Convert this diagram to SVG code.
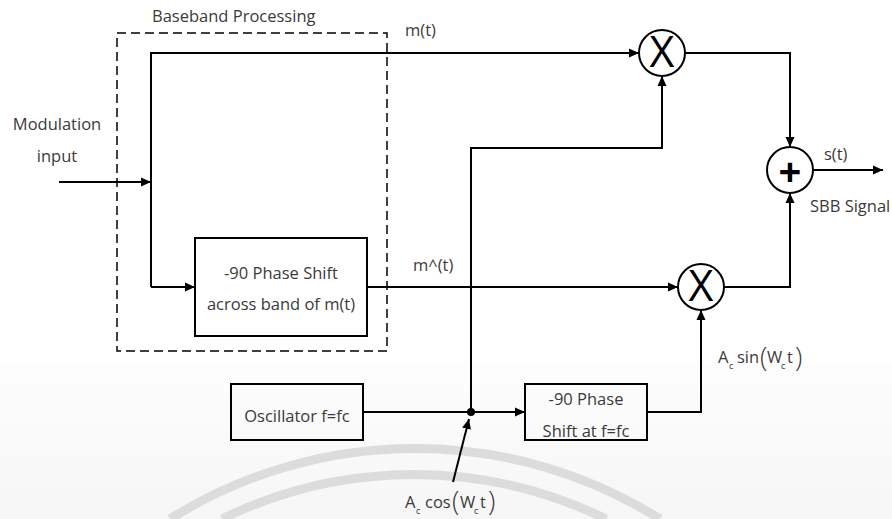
<svg xmlns="http://www.w3.org/2000/svg" width="892" height="519" viewBox="0 0 892 519">
  <defs>
    <marker id="arr" viewBox="0 0 10 10" refX="10" refY="5" markerWidth="10" markerHeight="10" markerUnits="userSpaceOnUse" orient="auto">
      <path d="M0,0.5 L10,5 L0,9.5 Z" fill="#000"/>
    </marker>
    <linearGradient id="bg" x1="0" y1="0" x2="0" y2="1">
      <stop offset="0" stop-color="#fdfdfd"/>
      <stop offset="1" stop-color="#f6f6f6"/>
    </linearGradient>
    <style>
      .t { font-family: "Open Sans", "Noto Sans", sans-serif; font-size: 16.5px; fill: #3a3a3a; }
      .sub { font-family: "Open Sans", "Noto Sans", sans-serif; font-size: 9px; fill: #3a3a3a; }
      .par { font-family: "Open Sans", "Noto Sans", sans-serif; font-size: 27px; fill: #3a3a3a; font-weight: 300; }
      .box { fill: none; stroke: #000; stroke-width: 2; }
      .op { fill: #fff; stroke: #000; stroke-width: 2; }
      .sym { font-family: "Open Sans", "Noto Sans", sans-serif; fill: #000; text-anchor: middle; }
      .w { fill: none; stroke: #000; stroke-width: 2; }
      .wa { fill: none; stroke: #000; stroke-width: 2; marker-end: url(#arr); }
      .mark { fill: none; stroke: #dcdcdc; stroke-width: 9; }
    </style>
  </defs>

  <rect x="0" y="0" width="892" height="519" fill="#fff"/>
  <rect x="0" y="362" width="892" height="157" fill="url(#bg)"/>

  <g id="watermark">
    <path class="mark" d="M 170 519 A 461 461 0 0 1 660 519"/>
    <path class="mark" d="M 222 519 A 436 436 0 0 1 606 519"/>
  </g>

  <g id="baseband">
    <rect x="117" y="33" width="270" height="318" fill="none" stroke="#000" stroke-width="1.5" stroke-dasharray="9,5"/>
    <text class="t" x="152" y="22">Baseband Processing</text>
  </g>

  <g id="input-label">
    <text class="t" x="57" y="130" text-anchor="middle">Modulation</text>
    <text class="t" x="57" y="162" text-anchor="middle">input</text>
  </g>

  <g id="hilbert">
    <rect class="box" x="195" y="238" width="172" height="98"/>
    <text class="t" x="281" y="279" text-anchor="middle">-90 Phase Shift</text>
    <text class="t" x="281" y="310" text-anchor="middle">across band of m(t)</text>
  </g>

  <g id="oscillator">
    <rect class="box" x="231" y="384" width="132" height="56"/>
    <text class="t" x="297" y="422" text-anchor="middle">Oscillator f=fc</text>
  </g>

  <g id="carrier-shift">
    <rect class="box" x="525" y="384" width="122" height="56"/>
    <text class="t" x="586" y="405" text-anchor="middle">-90 Phase</text>
    <text class="t" x="586" y="437" text-anchor="middle">Shift at f=fc</text>
  </g>

  <g id="connectors">
    <line class="wa" x1="59" y1="182" x2="151" y2="182"/>
    <polyline class="w" points="151,287 151,53 639,53"/>
    <line class="wa" x1="151" y1="53" x2="639" y2="53"/>
    <line class="wa" x1="151" y1="287" x2="195" y2="287"/>
    <line class="wa" x1="367" y1="287" x2="678" y2="287"/>
    <line class="w" x1="363" y1="412" x2="471" y2="412"/>
    <line class="wa" x1="471" y1="412" x2="525" y2="412"/>
    <polyline class="wa" points="471,412 471,148 662,148 662,76"/>
    <polyline class="wa" points="647,412 701,412 701,310"/>
    <polyline class="wa" points="685,53 790,53 790,147"/>
    <polyline class="wa" points="724,287 790,287 790,193"/>
    <line class="wa" x1="813" y1="170" x2="883" y2="170"/>
    <line class="wa" x1="453" y1="482" x2="469" y2="419"/>
    <circle cx="471" cy="412" r="4" fill="#000"/>
  </g>

  <g id="mult-top">
    <circle class="op" cx="662" cy="53" r="23"/>
    <text class="sym" x="662" y="67" font-size="43">X</text>
  </g>

  <g id="mult-bottom">
    <circle class="op" cx="701" cy="287" r="23"/>
    <text class="sym" x="701" y="301" font-size="43">X</text>
  </g>

  <g id="summer">
    <circle class="op" cx="790" cy="170" r="23"/>
    <text class="sym" x="790" y="186" font-size="40" font-weight="bold">+</text>
  </g>

  <g id="labels">
    <text class="t" x="405" y="36">m(t)</text>
    <text class="t" x="413" y="271">m^(t)</text>
    <text class="t" x="824" y="160">s(t)</text>
    <text class="t" x="810" y="212">SBB Signal</text>

    <text class="t" x="718" y="363">A</text>
    <text class="sub" x="729" y="369">c</text>
    <text class="t" x="737" y="363">sin</text>
    <text class="par" x="760" y="367">(</text>
    <text class="t" x="767" y="363" font-size="15">W</text>
    <text class="sub" x="781" y="369">c</text>
    <text class="t" x="787" y="363">t</text>
    <text class="par" x="795" y="367">)</text>

    <text class="t" x="405" y="508">A</text>
    <text class="sub" x="416" y="514">c</text>
    <text class="t" x="425" y="508">cos</text>
    <text class="par" x="452" y="511">(</text>
    <text class="t" x="460" y="508" font-size="15">W</text>
    <text class="sub" x="474" y="514">c</text>
    <text class="t" x="480" y="508">t</text>
    <text class="par" x="488" y="511">)</text>
  </g>
</svg>
